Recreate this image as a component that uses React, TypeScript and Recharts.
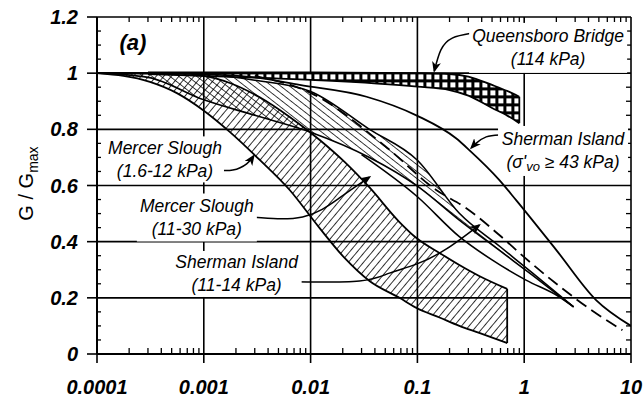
import React from 'react';
import { ComposedChart, XAxis, YAxis, CartesianGrid, Area, Line, ReferenceDot, Label } from 'recharts';

const FONT = "'Liberation Sans', Arial, sans-serif";

// axes
const xTicks = [0.0001, 0.001, 0.01, 0.1, 1, 10];
const yTicks = [0, 0.2, 0.4, 0.6, 0.8, 1, 1.2];
const xMinorTicks = [
  0.0002, 0.0003, 0.0004, 0.0005, 0.0006, 0.0007, 0.0008, 0.0009,
  0.002, 0.003, 0.004, 0.005, 0.006, 0.007, 0.008, 0.009,
  0.02, 0.03, 0.04, 0.05, 0.06, 0.07, 0.08, 0.09,
  0.2, 0.3, 0.4, 0.5, 0.6, 0.7, 0.8, 0.9,
  2, 3, 4, 5, 6, 7, 8, 9,
];
const yMinorTicks = [0.05, 0.1, 0.15, 0.25, 0.3, 0.35, 0.45, 0.5, 0.55, 0.65, 0.7, 0.75, 0.85, 0.9, 0.95, 1.05, 1.1, 1.15];
const X_MIN = 0.0001;
const X_MAX = 10;
const Y_MAX = 1.2;

// bands: [shear strain %, lower G/Gmax, upper G/Gmax]
const queensboroBand = [
  [0.0003, 0.997, 1.003], [0.001, 0.99, 1.003], [0.01, 0.976, 1.003], [0.1, 0.952, 1.0],
  [0.2, 0.94, 0.997], [0.3, 0.92, 0.988], [0.5, 0.876, 0.958], [0.7, 0.848, 0.936], [0.9, 0.822, 0.916],
];
const mercerLowBand = [
  [0.0001, 1.0, 1.0], [0.000313, 0.969, 0.999], [0.00056, 0.929, 0.996], [0.00098, 0.869, 0.99],
  [0.00175, 0.791, 0.965], [0.00334, 0.691, 0.914], [0.00637, 0.584, 0.844], [0.0121, 0.449, 0.763],
  [0.0208, 0.342, 0.684], [0.0356, 0.26, 0.593], [0.0679, 0.2, 0.47], [0.098, 0.164, 0.413],
  [0.161, 0.13, 0.36], [0.247, 0.1, 0.317], [0.379, 0.075, 0.278], [0.693, 0.039, 0.232],
];
const mercerMidBand = [
  [0.0001, 1.0, 1.0], [0.0003, 0.985, 1.0], [0.001, 0.905, 0.995], [0.003, 0.85, 0.975],
  [0.01, 0.79, 0.935], [0.0356, 0.7, 0.8], [0.1, 0.598, 0.69], [0.247, 0.477, 0.501],
  [0.6, 0.366, 0.381], [1.2, 0.28, 0.288], [2.9, 0.168, 0.168],
];
// lines: [shear strain %, G/Gmax]
const shermanLowLower = [
  [0.03, 0.71], [0.1, 0.56], [0.247, 0.418], [0.5, 0.335],
  [1.04, 0.263], [2.12, 0.204], [2.9, 0.168],
];
const shermanHighUpper = [
  [0.0001, 1.0], [0.001, 0.996], [0.003, 0.985], [0.0079, 0.958], [0.0334, 0.916], [0.1, 0.848],
  [0.23, 0.768], [0.306, 0.726], [0.583, 0.62], [0.84, 0.548], [2, 0.37], [4.71, 0.192], [10, 0.1],
];
const shermanHighLower = [
  [0.003, 0.99], [0.01, 0.93], [0.05, 0.74], [0.15, 0.584], [0.285, 0.52], [0.6, 0.42],
  [1, 0.345], [2, 0.25], [4.7, 0.145], [8.3, 0.085],
];
const queensboroEnd = [[0.9, 0.822], [0.9, 0.916]];
const mercerLowEnd = [[0.693, 0.039], [0.693, 0.232]];

// label arrows
const arrowQueensboro = [[0.318, 1.142], [0.212, 1.125], [0.166, 1.083], [0.144, 1.008]];
const arrowMercerLow = [[0.00127, 0.655], [0.00187, 0.655], [0.00252, 0.677], [0.00293, 0.705]];
const arrowMercerMid = [[0.00269, 0.488], [0.00841, 0.488], [0.01866, 0.556], [0.0356, 0.63]];
const arrowShermanLow = [[0.00679, 0.257], [0.0287, 0.26], [0.0547, 0.288], [0.098, 0.32], [0.187, 0.374], [0.379, 0.459]];
const arrowShermanHigh = [[0.583, 0.78], [0.441, 0.773], [0.356, 0.751], [0.32, 0.734]];

const notes = [
  { id: 'qb', x: 1.675, y: 1.09, lines: ['Queensboro Bridge', '(114 kPa)'] },
  { id: 'sh', x: 2.31, y: 0.723, lines: ['Sherman Island', 'SIGMA'] },
  { id: 'm1', x: 0.000433, y: 0.693, lines: ['Mercer Slough', '(1.6-12 kPa)'] },
  { id: 'm2', x: 0.000861, y: 0.486, lines: ['Mercer Slough', '(11-30 kPa)'] },
  { id: 's1', x: 0.00203, y: 0.285, lines: ['Sherman Island', '(11-14 kPa)'] },
];
const noteBox: Record<string, [number, number]> = { qb: [158, 50], sh: [130, 50], m1: [118, 46], m2: [120, 48], s1: [130, 46] };

const toRange = (rows: number[][]) => rows.map(([x, lo, hi]) => ({ x, r: [lo, hi] }));
const toPts = (rows: number[][]) => rows.map(([x, y]) => ({ x, y }));

const noteText = { fontFamily: FONT, fontStyle: 'italic', fontSize: 17.5, fill: '#000' } as const;

function renderNote(note: typeof notes[number]) {
  const [w, h] = noteBox[note.id];
  return (props: any) => {
    const { x, y } = props.viewBox;
    return (
      <g>
        <rect x={x - w / 2} y={y - h / 2} width={w} height={h} fill="#fff" />
        {note.lines.map((t, i) => (
          <text key={i} x={x} y={y + (i === 0 ? -11.5 : 11.5)} textAnchor="middle" dominantBaseline="central" {...noteText}>
            {t === 'SIGMA' ? (
              <>
                (σ'<tspan dy={4} fontSize={13}>vo</tspan>
                <tspan dy={-4}> ≥ 43 kPa)</tspan>
              </>
            ) : t}
          </text>
        ))}
      </g>
    );
  };
}

// a short inward tick mark drawn from the anchor point, dx/dy in px
const tickMark = (dx: number, dy: number) => (props: any) => {
  const { x, y } = props.viewBox;
  return <line x1={x} y1={y} x2={x + dx} y2={y + dy} stroke="#000" strokeWidth={1.3} />;
};

function YTitle(props: any) {
  const { viewBox } = props;
  const cx = viewBox.x + 33;
  const cy = viewBox.y + viewBox.height / 2 - 2;
  return (
    <text x={cx} y={cy} transform={`rotate(-90, ${cx}, ${cy})`} textAnchor="middle" fontFamily={FONT} fontSize={20} fill="#000">
      G / G<tspan dy={5} fontSize={14}>max</tspan>
    </text>
  );
}

const tickStyle = { fontFamily: FONT, fontSize: 20, fontStyle: 'italic', fontWeight: 'bold', fill: '#000' };
const black = { stroke: '#000', strokeWidth: 1.6 };
const anchor = { r: 0, fill: 'none', stroke: 'none', ifOverflow: 'visible' as const };

export default function App() {
  return (
    <div style={{ position: 'absolute', left: 0, top: 0, background: '#fff' }}>
      <ComposedChart width={644} height={400} margin={{ top: 17, right: 13, bottom: 6, left: 0 }}>
        <defs>
          <pattern id="hatchFwd" width="5.8" height="5.8" patternUnits="userSpaceOnUse" patternTransform="rotate(40)">
            <line x1="0" y1="0" x2="0" y2="5.8" stroke="#000" strokeWidth="1.6" />
          </pattern>
          <pattern id="hatchBack" width="5.5" height="5.5" patternUnits="userSpaceOnUse" patternTransform="rotate(-52)">
            <line x1="0" y1="0" x2="0" y2="5.5" stroke="#000" strokeWidth="1.5" />
          </pattern>
          <pattern id="checks" width="8" height="8" patternUnits="userSpaceOnUse">
            <rect width="8" height="8" fill="#000" />
            <rect x="2.4" y="2.4" width="5" height="5" fill="#fff" />
          </pattern>
          <marker id="arrowHead" markerWidth="11" markerHeight="9" refX="9" refY="4.5" orient="auto" markerUnits="userSpaceOnUse">
            <path d="M0,0 L11,4.5 L0,9 L3,4.5 z" fill="#000" />
          </marker>
        </defs>
        <CartesianGrid stroke="#000" strokeWidth={1.6} strokeOpacity={1} />
        <XAxis
          type="number" dataKey="x" scale="log" domain={[X_MIN, X_MAX]} allowDataOverflow
          ticks={xTicks} interval={0} tickFormatter={(v) => String(v)}
          height={40} tickSize={9} tickMargin={17} tick={tickStyle}
          axisLine={{ stroke: '#000', strokeWidth: 2 }} tickLine={black}
        />
        <YAxis
          type="number" domain={[0, Y_MAX]} allowDataOverflow ticks={yTicks} interval={0}
          width={97} tickSize={10} tickMargin={9} tick={tickStyle}
          axisLine={{ stroke: '#000', strokeWidth: 2 }} tickLine={black}
        >
          <Label content={YTitle} />
        </YAxis>

        {/* minor ticks, pointing into the plot on all four sides */}
        {xMinorTicks.map((v) => (
          <ReferenceDot key={`b${v}`} x={v} y={0} {...anchor} label={{ content: tickMark(0, -6) }} />
        ))}
        {xMinorTicks.map((v) => (
          <ReferenceDot key={`t${v}`} x={v} y={Y_MAX} {...anchor} label={{ content: tickMark(0, 5) }} />
        ))}
        {yMinorTicks.map((v) => (
          <ReferenceDot key={`l${v}`} x={X_MIN} y={v} {...anchor} label={{ content: tickMark(4, 0) }} />
        ))}
        {yMinorTicks.map((v) => (
          <ReferenceDot key={`r${v}`} x={X_MAX} y={v} {...anchor} label={{ content: tickMark(-5, 0) }} />
        ))}

        {notes.map((n) => (
          <ReferenceDot key={n.id} x={n.x} y={n.y} r={0} fill="none" stroke="none" label={{ content: renderNote(n) }} />
        ))}

        <Area data={toRange(mercerLowBand)} dataKey="r" type="monotone" fill="url(#hatchFwd)" fillOpacity={1} stroke="#000" strokeWidth={1.8} isAnimationActive={false} />
        <Area data={toRange(mercerMidBand)} dataKey="r" type="monotone" fill="url(#hatchBack)" fillOpacity={1} stroke="#000" strokeWidth={1.6} isAnimationActive={false} />
        <Area data={toRange(queensboroBand)} dataKey="r" type="monotone" fill="url(#checks)" fillOpacity={1} stroke="#000" strokeWidth={1.8} isAnimationActive={false} />

        <Line data={toPts(shermanLowLower)} dataKey="y" type="monotone" stroke="#000" strokeWidth={1.6} dot={false} activeDot={false} isAnimationActive={false} />
        <Line data={toPts(shermanHighUpper)} dataKey="y" type="monotone" stroke="#000" strokeWidth={1.8} dot={false} activeDot={false} isAnimationActive={false} />
        <Line data={toPts(shermanHighLower)} dataKey="y" type="monotone" stroke="#000" strokeWidth={1.8} strokeDasharray="12 6" dot={false} activeDot={false} isAnimationActive={false} />
        <Line data={toPts(queensboroEnd)} dataKey="y" type="linear" stroke="#000" strokeWidth={1.8} dot={false} activeDot={false} isAnimationActive={false} />
        <Line data={toPts(mercerLowEnd)} dataKey="y" type="linear" stroke="#000" strokeWidth={1.8} dot={false} activeDot={false} isAnimationActive={false} />

        {[arrowQueensboro, arrowMercerLow, arrowMercerMid, arrowShermanLow, arrowShermanHigh].map((a, i) => (
          <Line key={i} data={toPts(a)} dataKey="y" type="natural" stroke="#000" strokeWidth={1.5} dot={false} activeDot={false} markerEnd="url(#arrowHead)" isAnimationActive={false} />
        ))}

        <ReferenceDot x={0.000217} y={1.108} r={0} fill="none" stroke="none"
          label={{ content: (p: any) => (
            <text x={p.viewBox.x} y={p.viewBox.y} textAnchor="middle" dominantBaseline="central" fontFamily={FONT} fontSize={22} fontStyle="italic" fontWeight="bold" fill="#000">(a)</text>
          ) }}
        />
      </ComposedChart>
    </div>
  );
}
